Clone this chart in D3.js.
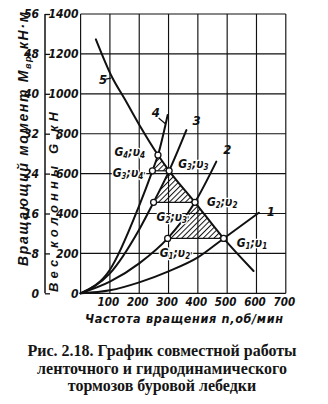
<!DOCTYPE html>
<html><head><meta charset="utf-8">
<script src="https://cdn.jsdelivr.net/npm/d3@7"></script>
<style>
html,body{margin:0;padding:0;background:#fff;}
svg{display:block;}
</style></head>
<body>
<svg id="chart" width="328" height="404"></svg>
<script>
// ---- data ----
const nTicks = [100, 200, 300, 400, 500, 600, 700];          // rotation speed, rpm
const gTicks = [0, 200, 400, 600, 800, 1000, 1200, 1400];    // string weight G, kN
const mTicks = [0, 8, 16, 24, 32, 40, 48, 56];               // torque M, kN·m
const curveNames = ["1", "2", "3", "4", "5"];
const curve1 = [[0,0],[100,15],[200,55],[300,110],[400,180],[488,275],[608,404]];
const curve2 = [[0,0],[100,58],[200,150],[297,275],[390,456],[463,660]];
const curve3 = [[0,0],[100,100],[200,320],[249,456],[302,614],[361,818]];
const curve4 = [[0,0],[100,118],[200,440],[245,614],[264,693],[297,894]];
const curve5 = [[52,1273],[107,1084],[150,975],[200,845],[264,693],[302,614],[390,456],[488,275],[590,112]];
const pointNames = ["G4v4", "G3v4p", "G3v3", "G2v3p", "G2v2", "G1v2p", "G1v1"];
const pointN     = [264, 245, 302, 249, 390, 297, 488];
const pointG     = [693, 614, 614, 456, 456, 275, 275];
const pointGsub  = ["4", "3", "3", "2", "2", "1", "1"];
const pointVsub  = ["4", "4", "3", "3", "2", "2", "1"];
const pointPrime = [false, true, false, true, false, true, false];
// hatched zones: [left point on curve, right point on curve 5, top point on curve 5]
const zones = [["G1v2p","G1v1","G2v2"], ["G2v3p","G2v2","G3v3"], ["G3v4p","G3v3","G4v4"]];
const xTitle = "Частота  вращения n,об/мин";
const gTitle = "Вес  колонны  G,кН";
const caption = ["Рис. 2.18. График совместной работы", "ленточного и гидродинамического", "тормозов буровой лебедки"];

// ---- layout ----
const F = "'Liberation Sans Narrow','DejaVu Sans Condensed','Arial Narrow',sans-serif";
const FW = "'Liberation Sans','DejaVu Sans',Arial,sans-serif";
const svg = d3.select("#chart");
const x = d3.scaleLinear().domain([0, 700]).range([80.6, 285.8]);
const y = d3.scaleLinear().domain([0, 1400]).range([293.3, 14]);
const yM = d3.scaleLinear().domain([0, 56]).range([293.3, 14]);
const ink = "#111";

const defs = svg.append("defs");
const pat = defs.append("pattern").attr("id", "hatch").attr("patternUnits", "userSpaceOnUse")
  .attr("width", 3.8).attr("height", 3.8).attr("patternTransform", "rotate(45)");
pat.append("line").attr("x1", 0.5).attr("y1", 0).attr("x2", 0.5).attr("y2", 3.8)
  .attr("stroke", ink).attr("stroke-width", 1);

// grid
const grid = svg.append("g").attr("stroke", ink).attr("stroke-width", 1.15);
grid.selectAll("line.v").data([0].concat(nTicks)).join("line")
  .attr("x1", d => x(d)).attr("x2", d => x(d)).attr("y1", y(0)).attr("y2", y(1400));
grid.selectAll("line.h").data(gTicks).join("line")
  .attr("x1", x(0)).attr("x2", x(700)).attr("y1", d => y(d)).attr("y2", d => y(d));

// axes (labels)
function styleAxis(g, size) {
  g.select(".domain").remove();
  g.selectAll("text").attr("font-family", F).attr("font-style", "italic")
    .attr("font-weight", "bold").attr("font-size", size).attr("fill", ink);
}
svg.append("g").attr("transform", `translate(${x(0)},0)`)
  .call(d3.axisLeft(y).tickValues(gTicks).tickSize(0).tickPadding(2).tickFormat(d3.format("d")))
  .call(g => styleAxis(g, 12));
svg.append("g")
  .call(d3.axisBottom(x).tickValues(nTicks).tickSize(0).tickPadding(5).tickFormat(d3.format("d")))
  .attr("transform", `translate(0,${y(0)})`)
  .call(g => styleAxis(g, 11.5))
  .call(g => g.selectAll("text").attr("dx", -2));
const mAx = svg.append("g").attr("transform", "translate(45,0)")
  .call(d3.axisLeft(yM).tickValues(mTicks).tickSize(-5).tickPadding(6).tickFormat(d3.format("d")))
  .call(g => styleAxis(g, 12));
mAx.selectAll(".tick line").attr("stroke", ink).attr("stroke-width", 1.3);
mAx.append("line").attr("x1", 0).attr("x2", 0).attr("y1", yM(0)).attr("y2", yM(56))
  .attr("stroke", ink).attr("stroke-width", 1.5);

// hatched zones
const byName = {};
pointNames.forEach((nm, i) => byName[nm] = [pointN[i], pointG[i]]);
svg.append("g").selectAll("path").data(zones).join("path")
  .attr("d", z => d3.line().x(p => x(p[0])).y(p => y(p[1]))(z.map(k => byName[k])) + "Z")
  .attr("fill", "url(#hatch)").attr("stroke", "none");
svg.append("g").selectAll("line").data(zones).join("line")
  .attr("x1", z => x(byName[z[0]][0])).attr("x2", z => x(byName[z[1]][0]))
  .attr("y1", z => y(byName[z[0]][1])).attr("y2", z => y(byName[z[1]][1]))
  .attr("stroke", ink).attr("stroke-width", 1.2);

// curves
const line = d3.line().x(d => x(d[0])).y(d => y(d[1])).curve(d3.curveMonotoneX);
const curves = [curve1, curve2, curve3, curve4, curve5];
svg.append("g").selectAll("path").data(curves).join("path")
  .attr("d", line).attr("fill", "none").attr("stroke", ink).attr("stroke-width", 2)
  .attr("stroke-linecap", "round");

// curve labels
const numOff = [[8, 3], [7, -8], [6, -5], [-16, 2], [0, 0]];
const numG = svg.append("g").attr("font-family", F).attr("font-style", "italic")
  .attr("font-weight", "bold").attr("font-size", 13).attr("fill", ink);
curveNames.forEach((nm, i) => {
  const c = curves[i];
  let px, py;
  if (i === 4) { px = x(c[1][0]) - 13; py = y(c[1][1]) + 7; }
  else { const e = c[c.length - 1]; px = x(e[0]) + numOff[i][0]; py = y(e[1]) + numOff[i][1]; }
  numG.append("text").attr("x", px).attr("y", py).text(nm);
});
// leader dashes for 4 and 5
const e4 = curve4[curve4.length - 1];
svg.append("line").attr("x1", x(e4[0]) - 9).attr("y1", y(e4[1]) + 3)
  .attr("x2", x(e4[0]) - 2).attr("y2", y(e4[1]) + 9).attr("stroke", ink).attr("stroke-width", 1.2);
svg.append("line").attr("x1", x(curve5[1][0]) - 6).attr("y1", y(curve5[1][1]) + 2)
  .attr("x2", x(curve5[1][0]) - 1).attr("y2", y(curve5[1][1]) + 1).attr("stroke", ink).attr("stroke-width", 1.2);

// point labels
const lblOff = [[-13, 1, "end"], [-7, 6, "end"], [9, -3, "start"], [3, 19, "start"], [12, 4, "start"], [-8, 19, "start"], [13, 9, "start"]];
const lab = svg.append("g").attr("font-family", F).attr("font-style", "italic")
  .attr("font-weight", "bold").attr("font-size", 12).attr("fill", ink);
pointNames.forEach((nm, i) => {
  const t = lab.append("text").attr("x", x(pointN[i]) + lblOff[i][0]).attr("y", y(pointG[i]) + lblOff[i][1])
    .attr("text-anchor", lblOff[i][2])
    .attr("stroke", "#fff").attr("stroke-width", 2.5).attr("paint-order", "stroke")
    .attr("stroke-linejoin", "round");
  t.append("tspan").text("G");
  t.append("tspan").attr("font-size", 8).attr("dy", 2).text(pointGsub[i]);
  t.append("tspan").attr("dy", -2).text(";υ");
  t.append("tspan").attr("font-size", 8).attr("dy", 2).text(pointVsub[i] + (pointPrime[i] ? "'" : ""));
});

// points
svg.append("g").selectAll("circle").data(pointNames).join("circle")
  .attr("cx", (d, i) => x(pointN[i])).attr("cy", (d, i) => y(pointG[i])).attr("r", 3)
  .attr("fill", "#fff").attr("stroke", ink).attr("stroke-width", 1.3);

// titles
const tStyle = s => s.attr("font-style", "italic").attr("font-weight", "bold").attr("fill", ink);
svg.append("text").call(tStyle).attr("font-family", F).attr("font-size", 12.5).attr("x", 85).attr("y", 323)
  .attr("textLength", 198).attr("lengthAdjust", "spacing").text(xTitle);
svg.append("text").call(tStyle).attr("font-family", FW).attr("font-size", 13)
  .attr("transform", "translate(58,292) rotate(-90)")
  .attr("textLength", 180).attr("lengthAdjust", "spacing").text(gTitle);
const mt = svg.append("text").call(tStyle).attr("font-family", FW).attr("font-size", 14)
  .attr("transform", "translate(28,266) rotate(-90)")
  .attr("textLength", 254).attr("lengthAdjust", "spacing");
mt.append("tspan").text("Вращающий   момент   M");
mt.append("tspan").attr("font-size", 9).attr("dy", 3).text("вр");
mt.append("tspan").attr("dy", -3).text(",кН·м");

// caption
svg.append("g").selectAll("text").data(caption).join("text")
  .attr("x", 162).attr("y", (d, i) => 356 + i * 17.5).attr("text-anchor", "middle")
  .attr("font-family", "'Liberation Serif','Times New Roman',serif").attr("font-weight", "bold")
  .attr("font-size", 16).attr("fill", "#151515").text(d => d);
</script>
</body></html>
